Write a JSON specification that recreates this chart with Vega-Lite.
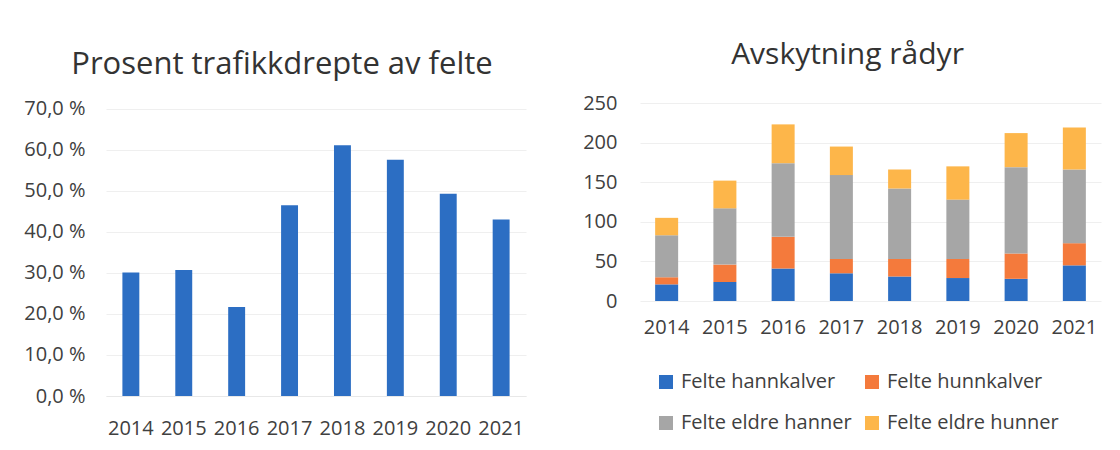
{
  "$schema": "https://vega.github.io/schema/vega-lite/v6.json",
  "background": "white",
  "padding": {"left": 23, "top": 40, "right": 19, "bottom": 8},
  "config": {
    "font": "Open Sans",
    "view": {"stroke": null},
    "axis": {"labelFontSize": 20, "labelColor": "#404040", "gridColor": "#efefef", "tickColor": "#e6e6e6", "domainColor": "#e8e8e8", "labelFont": "Open Sans"},
    "title": {"font": "Open Sans", "fontWeight": "normal", "color": "#333333"}
  },
  "spacing": 56,
  "resolve": {"legend": {"color": "independent"}},
  "datasets": {
    "pct": [
      {"year": "2014", "pct": 30.1},
      {"year": "2015", "pct": 30.7},
      {"year": "2016", "pct": 21.7},
      {"year": "2017", "pct": 46.5},
      {"year": "2018", "pct": 61.1},
      {"year": "2019", "pct": 57.6},
      {"year": "2020", "pct": 49.3},
      {"year": "2021", "pct": 43.0}
    ],
    "felt": [
      {"year": "2014", "kat": "Felte hannkalver", "k": 1, "n": 21},
      {"year": "2014", "kat": "Felte hunnkalver", "k": 2, "n": 9},
      {"year": "2014", "kat": "Felte eldre hanner", "k": 3, "n": 53},
      {"year": "2014", "kat": "Felte eldre hunner", "k": 4, "n": 22},
      {"year": "2015", "kat": "Felte hannkalver", "k": 1, "n": 24},
      {"year": "2015", "kat": "Felte hunnkalver", "k": 2, "n": 22},
      {"year": "2015", "kat": "Felte eldre hanner", "k": 3, "n": 71},
      {"year": "2015", "kat": "Felte eldre hunner", "k": 4, "n": 35},
      {"year": "2016", "kat": "Felte hannkalver", "k": 1, "n": 41},
      {"year": "2016", "kat": "Felte hunnkalver", "k": 2, "n": 40},
      {"year": "2016", "kat": "Felte eldre hanner", "k": 3, "n": 93},
      {"year": "2016", "kat": "Felte eldre hunner", "k": 4, "n": 49},
      {"year": "2017", "kat": "Felte hannkalver", "k": 1, "n": 35},
      {"year": "2017", "kat": "Felte hunnkalver", "k": 2, "n": 18},
      {"year": "2017", "kat": "Felte eldre hanner", "k": 3, "n": 106},
      {"year": "2017", "kat": "Felte eldre hunner", "k": 4, "n": 36},
      {"year": "2018", "kat": "Felte hannkalver", "k": 1, "n": 31},
      {"year": "2018", "kat": "Felte hunnkalver", "k": 2, "n": 22},
      {"year": "2018", "kat": "Felte eldre hanner", "k": 3, "n": 89},
      {"year": "2018", "kat": "Felte eldre hunner", "k": 4, "n": 24},
      {"year": "2019", "kat": "Felte hannkalver", "k": 1, "n": 29},
      {"year": "2019", "kat": "Felte hunnkalver", "k": 2, "n": 24},
      {"year": "2019", "kat": "Felte eldre hanner", "k": 3, "n": 75},
      {"year": "2019", "kat": "Felte eldre hunner", "k": 4, "n": 42},
      {"year": "2020", "kat": "Felte hannkalver", "k": 1, "n": 28},
      {"year": "2020", "kat": "Felte hunnkalver", "k": 2, "n": 32},
      {"year": "2020", "kat": "Felte eldre hanner", "k": 3, "n": 109},
      {"year": "2020", "kat": "Felte eldre hunner", "k": 4, "n": 43},
      {"year": "2021", "kat": "Felte hannkalver", "k": 1, "n": 45},
      {"year": "2021", "kat": "Felte hunnkalver", "k": 2, "n": 28},
      {"year": "2021", "kat": "Felte eldre hanner", "k": 3, "n": 93},
      {"year": "2021", "kat": "Felte eldre hunner", "k": 4, "n": 53}
    ]
  },
  "hconcat": [
    {
      "data": {"name": "pct"},
      "width": 420,
      "height": 293,
      "title": {"text": "Prosent trafikkdrepte av felte", "fontSize": 31, "anchor": "middle", "offset": 18, "dx": -34},
      "mark": {"type": "bar", "color": "#2C6EC3"},
      "encoding": {
        "x": {"field": "year", "type": "ordinal", "title": null, "scale": {"paddingInner": 0.68, "paddingOuter": 0.31},
              "axis": {"labelAngle": 0, "ticks": false, "domain": true, "labelPadding": 22}},
        "y": {"field": "pct", "type": "quantitative", "title": null,
              "scale": {"domain": [0, 71.4], "nice": false},
              "axis": {"values": [0, 10, 20, 30, 40, 50, 60, 70], "domain": false, "ticks": false, "labelPadding": 21,
                       "labelExpr": "replace(format(datum.value, '.1f'), '.', ',') + ' %'"}}
      }
    },
    {
      "data": {"name": "felt"},
      "width": 461,
      "height": 198,
      "title": {"text": "Avskytning rådyr", "fontSize": 30, "anchor": "middle", "offset": 23, "dx": -23},
      "mark": {"type": "bar"},
      "encoding": {
        "x": {"field": "year", "type": "ordinal", "title": null, "scale": {"paddingInner": 0.605, "paddingOuter": 0.26},
              "axis": {"labelAngle": 0, "ticks": false, "domain": false, "labelPadding": 16}},
        "y": {"field": "n", "type": "quantitative", "title": null, "stack": "zero",
              "scale": {"domain": [0, 250], "nice": false},
              "axis": {"values": [0, 50, 100, 150, 200, 250], "domain": false, "ticks": false, "labelPadding": 23}},
        "color": {"field": "kat", "type": "nominal", "title": null,
                  "scale": {"domain": ["Felte hannkalver", "Felte hunnkalver", "Felte eldre hanner", "Felte eldre hunner"],
                            "range": ["#2C6EC3", "#F47A3C", "#A6A6A6", "#FDB64A"]},
                  "legend": {"orient": "bottom", "direction": "horizontal", "columns": 2, "symbolType": "square", "symbolSize": 196,
                             "labelFontSize": 20, "labelColor": "#404040", "labelLimit": 300, "columnPadding": 10, "rowPadding": 21,
                             "offset": 19, "padding": 16, "symbolStrokeWidth": 0, "symbolOpacity": 1, "labelOffset": 5}},
        "order": {"field": "k", "type": "quantitative"}
      }
    }
  ]
}
